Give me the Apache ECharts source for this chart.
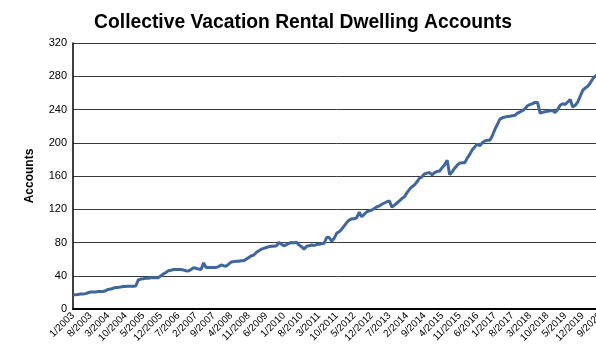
<!DOCTYPE html>
<html>
<head>
<meta charset="utf-8">
<script src="https://cdn.jsdelivr.net/npm/echarts@6/dist/echarts.min.js"></script>
<style>
  html, body { margin: 0; padding: 0; background: #fff; overflow: hidden; }
  #chart { width: 606px; height: 346px; }
</style>
</head>
<body>
<div id="chart"></div>
<script>
// Monthly reporting periods, Jan 2003 through Dec 2019, then the 2020 reports
const monthlyYears = [2003, 2004, 2005, 2006, 2007, 2008, 2009, 2010, 2011,
                      2012, 2013, 2014, 2015, 2016, 2017, 2018, 2019];
const periods2020 = ['1/2020', '2/2020', '3/2020', '4/2020', '7/2020', '8/2020', '9/2020'];

const months = [];
monthlyYears.forEach(y => { for (let m = 1; m <= 12; m++) months.push(m + '/' + y); });
const categories = months.concat(periods2020);

// Active dwelling accounts per period
const accounts = [
  // 2003
  17, 17, 17.5, 18, 18, 18.5, 19.5, 20.5, 20.5, 20.5, 21, 21,
  // 2004
  21, 22, 23.5, 24, 25, 26, 26, 26.5, 27, 27, 27.5, 27.5,
  // 2005
  27.5, 27.7, 35, 36, 36.5, 37, 37, 37.5, 37.5, 37.5, 37.7, 40,
  // 2006
  42, 44, 46, 46.5, 47.5, 47.5, 47.5, 47.5, 47, 46, 45.8, 47.5,
  // 2007
  49.5, 49, 48, 47.5, 55.5, 50, 50, 50, 50, 50, 51, 53,
  // 2008
  52, 51.5, 54, 56.5, 57, 57.5, 57.5, 58, 58, 60, 62, 64,
  // 2009
  65, 68, 70, 72, 73, 74, 75, 75.5, 75.5, 76, 80, 78,
  // 2010
  76, 77.5, 79, 80, 79.5, 80.3, 77, 75, 72, 75.5, 76, 77,
  // 2011
  76.5, 77.5, 78, 78.5, 79, 86, 86, 81.5, 85, 91, 93, 96,
  // 2012
  100, 104, 107, 108.5, 108.5, 110, 116.4, 111, 114, 117, 118, 119,
  // 2013
  121, 123, 124, 126, 127.5, 129, 130, 122.5, 125, 127.5, 130, 133,
  // 2014
  135, 140, 144, 147, 149.3, 153, 157.5, 159, 162.6, 163.5, 164, 161.5,
  // 2015
  164, 165.5, 166, 170, 173.4, 179, 161.4, 165, 169.4, 173, 175.5, 176,
  // 2016
  176, 181.5, 186, 191.5, 195, 198.7, 196.3, 200, 202.3, 203, 203, 208.4,
  // 2017
  216, 222, 228.5, 230, 230.9, 231.5, 232, 232.5, 233, 235.7, 237, 238.5,
  // 2018
  241, 244.5, 246, 247, 248.5, 248.5, 235.7, 236.5, 237.3, 238, 238.5, 238.8,
  // 2019
  236.4, 240, 245, 247, 246, 249, 252, 243, 245, 249, 256, 263,
  // 2020
  266, 268, 272, 277, 280, 283, 286
];

const yTicks = { min: 0, max: 320, step: 40 };

const chart = echarts.init(document.getElementById('chart'), null, { renderer: 'canvas' });
chart.setOption({
  animation: false,
  backgroundColor: '#ffffff',
  textStyle: { fontFamily: 'Liberation Sans, Arial, sans-serif' },
  title: {
    text: 'Collective Vacation Rental Dwelling Accounts',
    left: 298, top: 8, textAlign: 'center',
    textStyle: { fontSize: 19.3, fontWeight: 'bold', color: '#000', fontFamily: 'Liberation Sans, Arial, sans-serif' }
  },
  grid: { left: 73, right: 2, top: 43, bottom: 37, containLabel: false },
  xAxis: {
    type: 'category',
    data: categories,
    boundaryGap: false,
    axisLine: { show: true, lineStyle: { color: '#000', width: 2 } },
    axisTick: { show: false },
    axisLabel: {
      interval: 6, rotate: 45, fontSize: 10, color: '#000', margin: 5,
      fontFamily: 'Liberation Sans, Arial, sans-serif'
    },
    splitLine: { show: false }
  },
  yAxis: {
    type: 'value',
    min: yTicks.min, max: yTicks.max, interval: yTicks.step,
    name: 'Accounts',
    nameLocation: 'middle',
    nameGap: 37,
    nameRotate: 90,
    nameTextStyle: { fontSize: 12, fontWeight: 'bold', color: '#000', fontFamily: 'Liberation Sans, Arial, sans-serif' },
    axisLine: { show: true, lineStyle: { color: '#000', width: 1.5 } },
    axisTick: { show: false },
    axisLabel: { fontSize: 11, color: '#000', margin: 6, fontFamily: 'Liberation Sans, Arial, sans-serif' },
    splitLine: { show: true, lineStyle: { color: '#3a3a3a', width: 1 } }
  },
  series: [{
    type: 'line',
    data: accounts,
    showSymbol: false,
    symbol: 'none',
    smooth: false,
    lineStyle: { color: '#3d679e', width: 3 },
    clip: true
  }]
});
</script>
</body>
</html>
